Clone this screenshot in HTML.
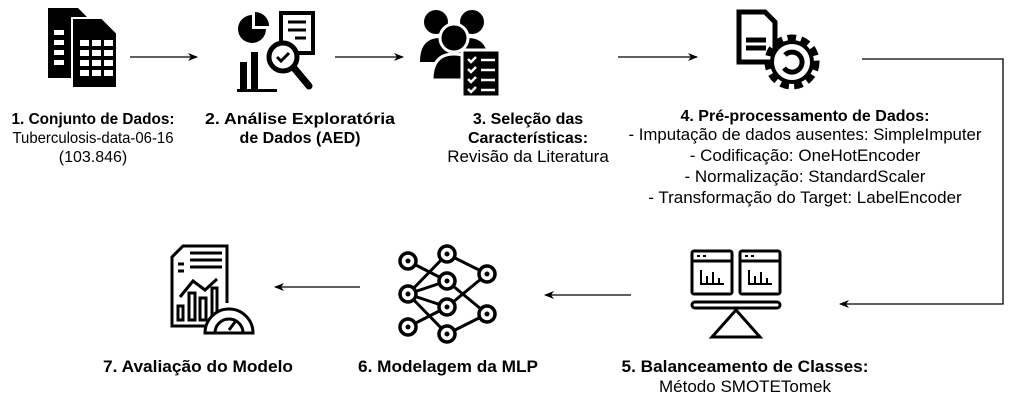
<!DOCTYPE html>
<html><head><meta charset="utf-8"><style>
body{margin:0;background:#fff;}
svg{display:block;font-family:"Liberation Sans",Arial,sans-serif;}
.b{font-weight:bold;font-size:16px;}
.n{font-size:16px;}
.b7{font-weight:bold;font-size:17px;}
.n4{font-size:17px;}
</style></head><body>
<svg width="1015" height="410" viewBox="0 0 1015 410">
<defs><marker id="a" markerWidth="10" markerHeight="8" refX="9" refY="4" orient="auto" markerUnits="userSpaceOnUse"><path d="M0,0 L10,4 L0,8 L3,4 Z" fill="#000"/></marker></defs>
<g stroke="#000" stroke-width="1.3" fill="none">
<line x1="130" y1="57" x2="197" y2="57" marker-end="url(#a)"/>
<line x1="335" y1="57" x2="403" y2="57" marker-end="url(#a)"/>
<line x1="618" y1="57" x2="697" y2="57" marker-end="url(#a)"/>
<polyline points="862,59 1003,59 1003,304 840,304" marker-end="url(#a)"/>
<line x1="631" y1="295" x2="545" y2="295" marker-end="url(#a)"/>
<line x1="360" y1="287" x2="275" y2="287" marker-end="url(#a)"/>
</g>
<!-- icon1 -->
<g>
<path d="M48,8 H78 L88,18 V78 H48 Z" fill="#000"/>
<path d="M72,18 H102 L117,33 V88 H72 Z" fill="#000" stroke="#fff" stroke-width="2"/>
<g fill="#fff"><rect x="80" y="40" width="9" height="6"/><rect x="92" y="40" width="9" height="6"/><rect x="104" y="40" width="9" height="6"/>
<rect x="80" y="50" width="9" height="6"/><rect x="92" y="50" width="9" height="6"/><rect x="104" y="50" width="9" height="6"/>
<rect x="80" y="60" width="9" height="6"/><rect x="92" y="60" width="9" height="6"/><rect x="104" y="60" width="9" height="6"/>
<rect x="80" y="70" width="9" height="6"/><rect x="92" y="70" width="9" height="6"/><rect x="104" y="70" width="9" height="6"/>
<rect x="54" y="30" width="10" height="5"/><rect x="54" y="40" width="10" height="5"/><rect x="54" y="50" width="10" height="5"/><rect x="54" y="60" width="10" height="5"/></g>
</g>
<!-- icon2 -->
<g>
<path d="M252,15 A14,14 0 1,0 266,29 H252 Z" fill="#000"/>
<path d="M255,12 A14,14 0 0,1 269,26 H255 Z" fill="#000"/>
<rect x="281" y="13" width="32" height="40" fill="none" stroke="#000" stroke-width="4"/>
<g stroke="#000" stroke-width="3"><line x1="288" y1="22" x2="306" y2="22"/><line x1="288" y1="30" x2="306" y2="30"/><line x1="295" y1="38" x2="306" y2="38"/></g>
<rect x="240" y="62" width="7" height="28" fill="#000"/><rect x="251" y="52" width="7" height="38" fill="#000"/>
<rect x="237" y="89" width="40" height="3" fill="#000"/>
<circle cx="283" cy="57" r="14" fill="#fff" stroke="#000" stroke-width="5"/>
<path d="M277,57 l4,4 l8,-8" stroke="#000" stroke-width="3" fill="none"/>
<line x1="294" y1="68" x2="309" y2="86" stroke="#000" stroke-width="7" stroke-linecap="round"/>
</g>
<!-- icon3 -->
<g fill="#000">
<circle cx="436" cy="22" r="12"/><circle cx="472" cy="22" r="12"/>
<path d="M420,62 Q420,38 440,38 L468,38 Q488,38 488,62 Z"/>
<circle cx="454" cy="38" r="14" stroke="#fff" stroke-width="3"/>
<path d="M432,80 Q432,54 454,54 Q476,54 476,80 Z" stroke="#fff" stroke-width="3"/>
<rect x="462" y="50" width="38" height="47" rx="2" stroke="#fff" stroke-width="3"/>
<g stroke="#fff" stroke-width="2.5" fill="none"><path d="M468,59 l3,3 l5,-5"/><path d="M468,69 l3,3 l5,-5"/><path d="M468,79 l3,3 l5,-5"/><path d="M468,89 l3,3 l5,-5"/>
<line x1="481" y1="60" x2="495" y2="60"/><line x1="481" y1="70" x2="495" y2="70"/><line x1="481" y1="80" x2="495" y2="80"/><line x1="481" y1="90" x2="495" y2="90"/></g>
</g>
<!-- icon4 -->
<g fill="none" stroke="#000" stroke-width="5">
<path d="M739,12 H765 L775,22 V62 H739 Z"/>
<line x1="746" y1="40" x2="766" y2="40"/><line x1="746" y1="48" x2="766" y2="48"/>
<circle cx="792" cy="62" r="23" stroke-dasharray="8 5" stroke-width="9"/>
<circle cx="792" cy="62" r="20" fill="#fff" stroke-width="4"/>
<path d="M785,55 A10,10 0 1,1 784,68" stroke-width="5"/>
</g>
<!-- icon5 -->
<g fill="none" stroke="#000" stroke-width="3">
<rect x="692" y="251" width="40" height="43" rx="2"/><line x1="692" y1="261" x2="732" y2="261"/>
<rect x="740" y="251" width="40" height="43" rx="2"/><line x1="740" y1="261" x2="780" y2="261"/>
<path d="M701,270 V284 H724 M707,276 V284 M713,272 V284 M719,278 V284" stroke-width="2"/>
<path d="M749,270 V284 H772 M755,276 V284 M761,272 V284 M767,278 V284" stroke-width="2"/>
<rect x="692" y="302" width="88" height="6" rx="3"/>
<path d="M736,310 L712,337 H760 Z"/>
</g>
<g fill="#000"><rect x="697" y="255" width="3" height="2"/><rect x="703" y="255" width="3" height="2"/><rect x="745" y="255" width="3" height="2"/><rect x="751" y="255" width="3" height="2"/></g>
<!-- icon6 -->
<g stroke="#000" stroke-width="3" fill="none">
<g><line x1="408" y1="261" x2="447" y2="281"/><line x1="408" y1="294" x2="447" y2="254"/><line x1="408" y1="294" x2="447" y2="281"/><line x1="408" y1="294" x2="447" y2="307"/><line x1="408" y1="294" x2="447" y2="334"/><line x1="408" y1="327" x2="447" y2="307"/>
<line x1="447" y1="254" x2="487" y2="274"/><line x1="447" y1="281" x2="487" y2="314"/><line x1="447" y1="307" x2="487" y2="274"/><line x1="447" y1="334" x2="487" y2="314"/></g>
<g fill="#fff" stroke-width="3.5"><circle cx="408" cy="261" r="8"/><circle cx="408" cy="294" r="8"/><circle cx="408" cy="327" r="8"/>
<circle cx="447" cy="254" r="8"/><circle cx="447" cy="281" r="8"/><circle cx="447" cy="307" r="8"/><circle cx="447" cy="334" r="8"/>
<circle cx="487" cy="274" r="8"/><circle cx="487" cy="314" r="8"/></g>
</g>
<g fill="#000"><circle cx="408" cy="261" r="2.5"/><circle cx="408" cy="294" r="2.5"/><circle cx="408" cy="327" r="2.5"/><circle cx="447" cy="254" r="2.5"/><circle cx="447" cy="281" r="2.5"/><circle cx="447" cy="307" r="2.5"/><circle cx="447" cy="334" r="2.5"/><circle cx="487" cy="274" r="2.5"/><circle cx="487" cy="314" r="2.5"/></g>
<!-- icon7 -->
<g stroke="#000" stroke-width="3" fill="none">
<path d="M214,326 H172 V257 L183,246 H227 V303"/>
<line x1="190" y1="253" x2="222" y2="253"/><line x1="190" y1="260" x2="222" y2="260"/><line x1="190" y1="267" x2="222" y2="267"/>
<line x1="178" y1="264" x2="184" y2="264"/><line x1="178" y1="271" x2="184" y2="271"/>
<path d="M180,297 L193,281 L205,290 L217,279"/>
<rect x="178" y="306" width="5" height="14"/><rect x="189" y="293" width="6" height="27"/><rect x="200" y="298" width="6" height="22"/><rect x="212" y="288" width="5" height="30"/>
<path d="M205,333 A24,24 0 0,1 253,333 Z" fill="#fff"/>
<path d="M215,333 A14,14 0 0,1 243,333"/>
<line x1="229" y1="330" x2="235" y2="322"/>
</g>
<g text-anchor="middle">
<text class="b" x="93" y="124" textLength="163" lengthAdjust="spacingAndGlyphs">1. Conjunto de Dados:</text>
<text class="n" x="93" y="143" textLength="161" lengthAdjust="spacingAndGlyphs">Tuberculosis-data-06-16</text>
<text class="n" x="93" y="162">(103.846)</text>
<text class="b" x="300" y="124" textLength="190" lengthAdjust="spacingAndGlyphs">2. Análise Exploratória</text>
<text class="b" x="300" y="143">de Dados (AED)</text>
<text class="b" x="528" y="124">3. Seleção das</text>
<text class="b" x="528" y="143">Características:</text>
<text class="n4" x="528" y="162">Revisão da Literatura</text>
<text class="b" x="805" y="121">4. Pré-processamento de Dados:</text>
<text class="n4" x="805" y="140" textLength="353" lengthAdjust="spacingAndGlyphs">- Imputação de dados ausentes: SimpleImputer</text>
<text class="n4" x="805" y="161">- Codificação: OneHotEncoder</text>
<text class="n4" x="805" y="182">- Normalização: StandardScaler</text>
<text class="n4" x="805" y="203">- Transformação do Target: LabelEncoder</text>
<text class="b7" x="745" y="372" textLength="247" lengthAdjust="spacingAndGlyphs">5. Balanceamento de Classes:</text>
<text class="n4" x="745" y="392">Método SMOTETomek</text>
<text class="b7" x="198" y="372" textLength="190" lengthAdjust="spacingAndGlyphs">7. Avaliação do Modelo</text>
<text class="b7" x="448" y="372" textLength="180" lengthAdjust="spacingAndGlyphs">6. Modelagem da MLP</text>
</g>
</svg>
</body></html>
